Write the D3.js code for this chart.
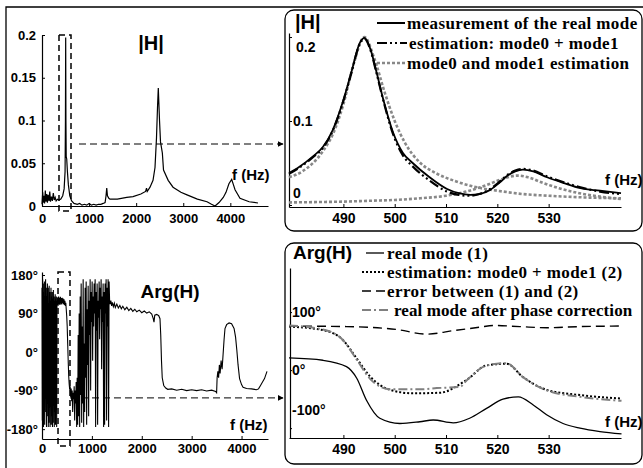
<!DOCTYPE html>
<html>
<head>
<meta charset="utf-8">
<script src="https://cdnjs.cloudflare.com/ajax/libs/d3/7.8.5/d3.min.js"></script>
<style>
  body { margin: 0; background: #fff; }
  svg { display: block; }
</style>
</head>
<body>
<svg id="fig" width="643" height="468"></svg>
<script>
// ---- data ----

// |H| over the whole band: [f (Hz), |H|]
var magOverview = [
  [0,0.002],[15,0.016],[25,0.004],[40,0.012],[55,0.003],[70,0.018],[85,0.005],[100,0.014],
  [115,0.004],[130,0.013],[150,0.006],[165,0.017],[180,0.005],[200,0.011],[220,0.006],
  [240,0.015],[260,0.007],[280,0.01],[300,0.006],[330,0.008],[360,0.007],[400,0.008],
  [440,0.012],[470,0.02],[490,0.04],[498,0.1],[503,0.197],[508,0.1],[514,0.058],[525,0.055],
  [540,0.04],[560,0.025],[590,0.012],[630,0.006],[680,0.003],[750,0.002],[800,0.003],
  [850,0.001],[900,0.002],[950,0.001],[1000,0.003],[1050,0.001],[1100,0.002],[1150,0.001],
  [1200,0.002],[1250,0.002],[1300,0.003],[1340,0.004],[1360,0.012],[1375,0.021],[1390,0.012],
  [1420,0.009],[1444,0.008],[1600,0.008],[1800,0.01],[1933,0.011],[2100,0.014],[2200,0.017],
  [2220,0.021],[2235,0.017],[2294,0.022],[2358,0.03],[2400,0.045],[2432,0.08],[2453,0.115],
  [2470,0.138],[2496,0.1],[2517,0.075],[2556,0.062],[2581,0.042],[2680,0.03],[2783,0.022],
  [2950,0.016],[3080,0.013],[3300,0.008],[3505,0.005],[3600,0.002],[3675,0.0],[3760,0.004],
  [3850,0.01],[3908,0.016],[3970,0.026],[4029,0.031],[4065,0.025],[4100,0.019],[4205,0.009],
  [4400,0.005],[4588,0.0035]
];

// Arg(H) over the whole band: [f (Hz), degrees]
var argOverview = [
  [0,150],[6,-160],[12,170],[18,-120],[24,160],[30,-175],[36,140],[42,-90],[48,165],[54,-170],
  [60,120],[66,-140],[72,170],[78,-60],[84,150],[90,-175],[96,130],[102,-150],[108,160],
  [114,-100],[120,150],[126,-175],[132,110],[138,-165],[144,155],[150,-130],[156,140],
  [162,-175],[168,120],[174,-80],[180,150],[186,-170],[192,130],[198,-150],[204,140],
  [210,-175],[216,125],[222,-110],[228,145],[234,-165],[240,130],[246,-175],[252,120],
  [258,-140],[264,135],[270,-170],[276,125],[282,-60],[288,130],[294,-175],[300,120],
  [306,110],[315,128],[324,108],[333,130],[342,112],[351,127],[360,110],[369,129],[378,113],
  [387,126],[396,111],[405,127],[414,114],[423,125],[432,112],[441,123],[450,110],[459,120],
  [468,108],[477,115],[486,100],[495,85],[505,60],[515,20],[525,-20],[535,-55],[545,-75],
  [555,-88],[565,-80],[575,-105],[585,-85],[595,-115],[605,-90],[615,-140],[625,-95],
  [635,-110],[645,-80],[655,-160],[665,-90],[675,-120],[685,-70],[695,-175],
  [705,-60],[715,-170],[725,40],[735,-150],[745,90],[755,-175],[765,130],[775,-100],[785,160],
  [795,-165],[805,60],[815,-120],[825,170],[835,-175],[845,20],[855,-140],[865,150],[875,-60],
  [885,165],[895,-170],[905,100],[915,-30],[925,155],[935,-150],[945,120],[955,40],[965,170],
  [975,-90],[985,140],[995,70],[1005,165],[1015,-20],[1025,130],[1035,60],[1045,160],[1055,90],
  [1065,170],[1075,-175],[1085,140],[1095,50],[1105,160],[1115,-170],[1125,120],[1135,80],
  [1145,165],[1155,30],[1165,150],[1175,100],[1185,170],[1195,-40],[1205,130],[1215,70],
  [1225,160],[1235,-175],[1245,140],[1255,-170],[1265,160],[1275,90],[1285,170],[1295,-160],
  [1305,150],[1315,60],[1325,170],[1335,-175],[1345,165],[1355,120],
  [1365,112],[1380,120],[1395,108],[1410,116],[1430,106],[1450,114],[1470,104],[1500,112],
  [1530,103],[1560,109],[1590,101],[1620,107],[1660,99],[1700,105],[1740,97],[1780,102],
  [1820,95],[1860,100],[1900,94],[1950,98],[2000,92],[2050,96],[2100,91],[2150,94],[2200,89],
  [2230,78],[2245,70],[2260,86],[2300,88],[2340,85],[2365,78],[2380,40],[2395,-20],[2410,-60],
  [2440,-78],[2480,-84],[2520,-87],[2600,-86],[2700,-89],[2800,-87],[2900,-90],[3000,-88],
  [3100,-90],[3200,-88],[3300,-91],[3400,-89],[3480,-92],[3500,-95],[3510,-60],[3525,-45],
  [3540,-60],[3555,-30],[3570,-50],[3590,-20],[3610,-40],[3630,-5],[3650,30],[3668,55],
  [3700,64],[3750,68],[3800,66],[3850,55],[3880,35],[3905,5],[3930,-30],[3960,-62],[4000,-76],
  [4030,-82],[4100,-85],[4200,-86],[4300,-88],[4340,-86],[4380,-78],[4420,-70],[4460,-62],
  [4510,-45]
];

// zoom on the first mode: |H|
var magMeasured = [
  [479.4,0.038],[481.3,0.045],[483.9,0.057],[486,0.069],[487.9,0.089],[490,0.125],
  [491.5,0.157],[493.2,0.193],[494.1,0.199],[495.3,0.185],[496.5,0.157],[497.8,0.125],
  [499.7,0.086],[501.6,0.062],[503.5,0.05],[506.8,0.033],[510.2,0.019],[512.5,0.014],
  [514.7,0.012],[516.5,0.013],[518.6,0.018],[520.5,0.027],[522,0.035],[523.5,0.04],
  [525,0.042],[527,0.04],[529.7,0.033],[533,0.026],[536.2,0.02],[540,0.017],[544.1,0.014]
];
var magEstimated = [
  [479.4,0.037],[481.3,0.044],[483.9,0.056],[486,0.068],[487.9,0.088],[490,0.124],
  [491.5,0.156],[493.2,0.192],[494.1,0.198],[495.3,0.184],[496.5,0.156],[497.8,0.124],
  [499.7,0.084],[501.6,0.059],[503.5,0.046],[506.8,0.029],[510.2,0.016],[512.5,0.012],
  [514.7,0.011],[516.5,0.013],[518.6,0.019],[520.5,0.028],[522,0.036],[523.5,0.041],
  [525,0.043],[527,0.041],[529.7,0.034],[533,0.027],[536.2,0.021],[540,0.016],[544.1,0.013]
];
var magMode0 = [
  [479.4,0.033],[482,0.04],[486,0.064],[488,0.085],[490,0.12],[492,0.168],[494.1,0.2],
  [496,0.175],[498,0.135],[500,0.1],[502,0.074],[505,0.05],[508,0.038],[512,0.028],
  [516,0.021],[520,0.017],[525,0.013],[530,0.011],[537,0.009],[544.1,0.008]
];
var magMode1 = [
  [479.4,0.003],[485,0.0035],[490,0.004],[495,0.005],[500,0.006],[505,0.008],[510,0.011],
  [514,0.016],[518,0.024],[521,0.031],[523.9,0.035],[526,0.033],[529,0.026],[532,0.02],
  [536,0.014],[540,0.01],[544.1,0.007]
];

// zoom on the first mode: Arg(H) in degrees
var argReal = [
  [479.4,21],[486,17],[490.6,6],[492.6,-14],[494.5,-52],[497.1,-83],[501,-92],[504.9,-89],
  [507.5,-86],[511.4,-91],[514.6,-83],[517.9,-66],[521.1,-50],[524.1,-46],[527,-60],
  [529.6,-77],[532.8,-92],[536.1,-100],[540,-106],[544.2,-110]
];
var argEstimated = [
  [479.4,75],[486,69],[489.9,52],[492.6,20],[495.2,-11],[499.1,-34],[503.6,-40],[508.8,-39],
  [514,-17],[517.9,8],[521.8,11],[525,-12],[529.6,-34],[536.1,-43],[544.2,-49]
];
var argError = [
  [479.4,76],[490.6,75],[500.4,70],[506.2,62],[511.4,68],[516.6,74],[519.2,77],[524.4,75],
  [529.6,73],[536.1,75],[544.2,76]
];
var argCorrected = [
  [479.4,77],[486,70],[489.9,52],[492.6,18],[495.2,-15],[499.1,-33],[505,-33],[508.2,-31],
  [512.7,-29],[514,-18],[517.9,8],[521.8,12],[525,-12],[529.6,-35],[536.1,-46],[544.2,-53]
];

// ticks
var overviewMagTicks = [0, 0.05, 0.1, 0.15, 0.2];
var overviewArgTicks = [-180, -90, 0, 90, 180];
var overviewFreqTicks = [0, 1000, 2000, 3000, 4000];
var zoomFreqTicks = [490, 500, 510, 520, 530];
var zoomMagTicks = [0, 0.1, 0.2];
var zoomArgTicks = [-100, 0, 100];

// the band that is zoomed in on, and the arrow heights
var zoomBandTop = [361, 616];
var zoomBandBottom = [321, 561];
var arrowTop = { from: 786, value: 0.0725 };
var arrowBottom = { from: 561, value: -107 };

// legends
var magLegend = ['measurement of the real mode', 'estimation: mode0 + mode1', 'mode0 and mode1 estimation'];
var argLegend = ['real mode (1)', 'estimation: mode0 + mode1 (2)', 'error between (1) and (2)', 'real mode after phase correction'];

// ---- drawing ----
var svg = d3.select('#fig');
var SANS = 'Arial, "Liberation Sans", sans-serif';
var SERIF = '"Times New Roman", "Liberation Serif", serif';
var plain = function (d) { return String(d); };
var deg = function (d) { return d + '\u00b0'; };

svg.append('defs').append('marker')
    .attr('id', 'arrow')
    .attr('viewBox', '0 0 10 10')
    .attr('refX', 9).attr('refY', 5)
    .attr('markerWidth', 6).attr('markerHeight', 6)
    .attr('markerUnits', 'userSpaceOnUse')
    .attr('orient', 'auto')
  .append('path').attr('d', 'M0,0 L10,5 L0,10 z').attr('fill', '#000');

// outer frame and the two rounded boxes
svg.append('path').attr('d', 'M6,468 V7 H643')
    .attr('fill', 'none').attr('stroke', '#000').attr('stroke-width', 1.3);
[[10, 231], [243, 464]].forEach(function (b) {
    svg.append('rect').attr('x', 285).attr('y', b[0]).attr('width', 357).attr('height', b[1] - b[0])
        .attr('rx', 9).attr('fill', 'none').attr('stroke', '#000').attr('stroke-width', 1.3);
});

function styleAxis(g, size) {
    g.select('.domain').attr('stroke', '#000').attr('stroke-width', 1.2);
    g.selectAll('.tick line').attr('stroke', '#000');
    g.selectAll('.tick text').attr('fill', '#000')
        .style('font-family', SANS).style('font-weight', 'bold').style('font-size', size + 'px');
}

function label(txt, x, y, size, family, anchor, spacing) {
    var t = svg.append('text').attr('x', x).attr('y', y).text(txt)
        .style('font-family', family || SANS).style('font-weight', 'bold')
        .style('font-size', size + 'px').attr('text-anchor', anchor || 'start');
    if (spacing) t.style('letter-spacing', spacing + 'px');
    return t;
}

function lineOf(x, y, curve) {
    var l = d3.line().x(function (d) { return x(d[0]); }).y(function (d) { return y(d[1]); });
    if (curve) l.curve(curve);
    return l;
}

// ---- top left: |H| overview ----
var xMagAll = d3.scaleLinear().domain([0, 4800]).range([42, 268]);
var yMagAll = d3.scaleLinear().domain([0, 0.2]).range([206, 35]);

svg.append('g').attr('transform', 'translate(0,206)')
    .call(d3.axisBottom(xMagAll).tickValues(overviewFreqTicks).tickFormat(plain)
        .tickSizeInner(-3).tickSizeOuter(0).tickPadding(8))
    .call(styleAxis, 13);
svg.append('g').attr('transform', 'translate(42,0)')
    .call(d3.axisLeft(yMagAll).tickValues(overviewMagTicks).tickFormat(plain)
        .tickSizeInner(-3).tickSizeOuter(0).tickPadding(6))
    .call(styleAxis, 13);

svg.append('path').datum(magOverview)
    .attr('d', lineOf(xMagAll, yMagAll))
    .attr('fill', 'none').attr('stroke', '#000').attr('stroke-width', 1.2);

svg.append('rect')
    .attr('x', xMagAll(zoomBandTop[0])).attr('y', yMagAll(0.2))
    .attr('width', xMagAll(zoomBandTop[1]) - xMagAll(zoomBandTop[0]))
    .attr('height', yMagAll(0) + 5 - yMagAll(0.2))
    .attr('fill', 'none').attr('stroke', '#000').attr('stroke-width', 1.5).attr('stroke-dasharray', '6,4');
svg.append('line')
    .attr('x1', xMagAll(arrowTop.from)).attr('x2', 283)
    .attr('y1', yMagAll(arrowTop.value)).attr('y2', yMagAll(arrowTop.value))
    .attr('stroke', '#000').attr('stroke-width', 1).attr('stroke-dasharray', '7,4')
    .attr('marker-end', 'url(#arrow)');

label('|H|', 151, 50, 20, SANS, 'middle');
label('f (Hz)', 232, 180, 15);

// ---- bottom left: Arg(H) overview ----
var xArgAll = d3.scaleLinear().domain([0, 4530]).range([42, 268]);
var yArgAll = d3.scaleLinear().domain([-203, 187]).range([439, 272]);

svg.append('g').attr('transform', 'translate(0,439)')
    .call(d3.axisBottom(xArgAll).tickValues(overviewFreqTicks).tickFormat(plain)
        .tickSizeInner(-3).tickSizeOuter(0).tickPadding(5))
    .call(styleAxis, 13);
svg.append('g').attr('transform', 'translate(42,0)')
    .call(d3.axisLeft(yArgAll).tickValues(overviewArgTicks).tickFormat(deg)
        .tickSizeInner(-3).tickSizeOuter(0).tickPadding(4))
    .call(styleAxis, 13);

svg.append('path').datum(argOverview)
    .attr('d', lineOf(xArgAll, yArgAll))
    .attr('fill', 'none').attr('stroke', '#000').attr('stroke-width', 1.1);

svg.append('rect')
    .attr('x', xArgAll(zoomBandBottom[0])).attr('y', yArgAll(187))
    .attr('width', xArgAll(zoomBandBottom[1]) - xArgAll(zoomBandBottom[0]))
    .attr('height', yArgAll(-203) + 7 - yArgAll(187))
    .attr('fill', 'none').attr('stroke', '#000').attr('stroke-width', 1.5).attr('stroke-dasharray', '6,4');
svg.append('line')
    .attr('x1', xArgAll(arrowBottom.from)).attr('x2', 283)
    .attr('y1', yArgAll(arrowBottom.value)).attr('y2', yArgAll(arrowBottom.value))
    .attr('stroke', '#000').attr('stroke-width', 1).attr('stroke-dasharray', '7,4')
    .attr('marker-end', 'url(#arrow)');

label('Arg(H)', 170, 298, 19, SANS, 'middle');
label('f (Hz)', 230, 430, 15);

// ---- top right: |H| zoom ----
var xZoom = d3.scaleLinear().domain([479.4, 544.1]).range([289, 621]);
var yMagZoom = d3.scaleLinear().domain([-0.0024, 0.2048]).range([207, 33]);

svg.append('g').attr('transform', 'translate(0,207)')
    .call(d3.axisBottom(xZoom).tickValues(zoomFreqTicks).tickSizeInner(-3).tickSizeOuter(0).tickPadding(6))
    .call(styleAxis, 14);
var magAxis = svg.append('g').attr('transform', 'translate(289,0)')
    .call(d3.axisRight(yMagZoom).tickValues(zoomMagTicks).tickFormat(plain)
        .tickSizeInner(3).tickSizeOuter(0).tickPadding(2))
    .call(styleAxis, 14);
magAxis.selectAll('.tick text').attr('dy', function (d) {
    return d === 0 ? '-0.5em' : (d === 0.2 ? '1em' : '0.32em');
}).attr('x', function (d) { return d === 0.2 ? 7 : 4; });

var dotGrey = { stroke: '#888', width: 2.6, dash: '3,2' };
[magMode0, magMode1].forEach(function (s) {
    svg.append('path').datum(s)
        .attr('d', lineOf(xZoom, yMagZoom, d3.curveMonotoneX))
        .attr('fill', 'none').attr('stroke', dotGrey.stroke)
        .attr('stroke-width', dotGrey.width).attr('stroke-dasharray', dotGrey.dash);
});
svg.append('path').datum(magMeasured)
    .attr('d', lineOf(xZoom, yMagZoom, d3.curveMonotoneX))
    .attr('fill', 'none').attr('stroke', '#000').attr('stroke-width', 1.8);
svg.append('path').datum(magEstimated)
    .attr('d', lineOf(xZoom, yMagZoom, d3.curveMonotoneX))
    .attr('fill', 'none').attr('stroke', '#000').attr('stroke-width', 2.2)
    .attr('stroke-dasharray', '10,3,2,3,2,3');

label('|H|', 295, 29, 20);
label('f (Hz)', 605, 185, 15);

var magLegendStyle = [
    { stroke: '#000', width: 2, dash: null, x0: 377, x1: 405 },
    { stroke: '#000', width: 2, dash: '10,3,2,3,2,3', x0: 377, x1: 407 },
    { stroke: '#888', width: 2.6, dash: '3,2', x0: 377, x1: 405 }
];
var magLegendY = [29, 49, 69];
magLegend.forEach(function (t, i) {
    var s = magLegendStyle[i];
    svg.append('line').attr('x1', s.x0).attr('x2', s.x1)
        .attr('y1', magLegendY[i] - 6).attr('y2', magLegendY[i] - 6)
        .attr('stroke', s.stroke).attr('stroke-width', s.width).attr('stroke-dasharray', s.dash);
    label(t, s.x1 + 2, magLegendY[i], 17, SERIF, 'start', 0.4);
});

// ---- bottom right: Arg(H) zoom ----
var yArgZoom = d3.scaleLinear().domain([-117, 176]).range([438, 268]);

svg.append('g').attr('transform', 'translate(0,438)')
    .call(d3.axisBottom(xZoom).tickValues(zoomFreqTicks).tickSizeInner(-3).tickSizeOuter(0).tickPadding(6))
    .call(styleAxis, 14);
var argAxis = svg.append('g').attr('transform', 'translate(290,0)')
    .call(d3.axisRight(yArgZoom).tickValues(zoomArgTicks).tickFormat(deg)
        .tickSizeInner(2).tickSizeOuter(0).tickPadding(0))
    .call(styleAxis, 14);
argAxis.selectAll('.tick text').attr('dy', function (d) {
    return d === -100 ? '-0.95em' : '0.32em';
});

var argStyles = [
    { data: argReal, stroke: '#000', width: 1.3, dash: null },
    { data: argEstimated, stroke: '#000', width: 2, dash: '2,2' },
    { data: argError, stroke: '#000', width: 1.4, dash: '9,5' },
    { data: argCorrected, stroke: '#808080', width: 2, dash: '9,3,2,3' }
];
argStyles.forEach(function (s) {
    svg.append('path').datum(s.data)
        .attr('d', lineOf(xZoom, yArgZoom, d3.curveMonotoneX))
        .attr('fill', 'none').attr('stroke', s.stroke)
        .attr('stroke-width', s.width).attr('stroke-dasharray', s.dash);
});

label('Arg(H)', 293, 259, 19);
label('f (Hz)', 605, 427, 15);

var argLegendY = [259, 278, 297, 316];
var argLegendX = [[366, 384, 387], [362, 385, 387], [362, 385, 387], [362, 390, 394]];
var argLegendSpacing = [0.4, 0.4, 0.4, 0.1];
argLegend.forEach(function (t, i) {
    var s = argStyles[i];
    svg.append('line').attr('x1', argLegendX[i][0]).attr('x2', argLegendX[i][1])
        .attr('y1', argLegendY[i] - 6).attr('y2', argLegendY[i] - 6)
        .attr('stroke', s.stroke).attr('stroke-width', s.width).attr('stroke-dasharray', s.dash);
    label(t, argLegendX[i][2], argLegendY[i], 17, SERIF, 'start', argLegendSpacing[i]);
});
</script>
</body>
</html>
